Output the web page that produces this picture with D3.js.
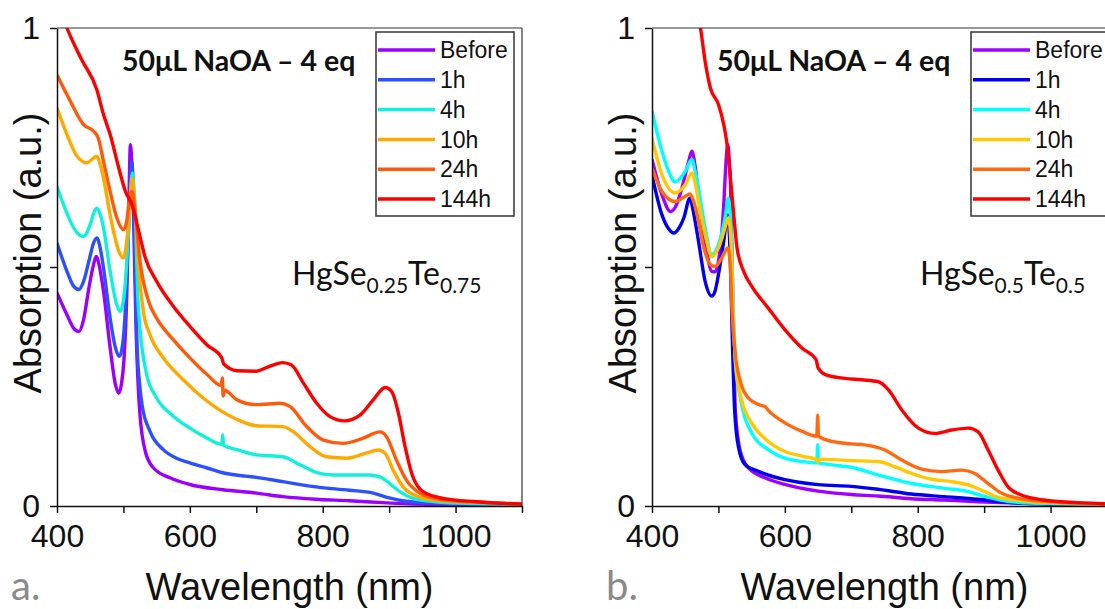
<!DOCTYPE html>
<html>
<head>
<meta charset="utf-8">
<script src="https://cdn.jsdelivr.net/npm/d3@7"></script>
<style>
  html, body { margin: 0; padding: 0; background: #fff; }
  svg { display: block; }
</style>
</head>
<body>
<svg id="chart" width="1105" height="609"></svg>
<script>
// ---- legend / series labels ----
const seriesLabels = ["Before", "1h", "4h", "10h", "24h", "144h"];

// ---- axis ticks ----
const xTicks = [400, 500, 600, 700, 800, 900, 1000, 1100];
const xTickLabels = [400, 600, 800, 1000];
const yTicks = [0, 0.5, 1];
const yTickLabels = [0, 1];

// ---- panel a: HgSe0.25Te0.75, absorption spectra [wavelength nm, absorbance] ----
const aBefore = [[400,0.446],[415,0.40],[425,0.372],[433,0.365],[440,0.39],[448,0.456],[455,0.505],[459,0.522],[464,0.50],[470,0.449],[480,0.331],[488,0.254],[493,0.236],[497,0.255],[501,0.31],[505,0.44],[508,0.62],[510.5,0.756],[512.5,0.72],[515,0.62],[519,0.372],[524.5,0.198],[533,0.114],[545,0.08],[570,0.059],[600,0.045],[650,0.034],[700,0.027],[740,0.0195],[790,0.014],[840,0.011],[890,0.007],[940,0.004],[1000,0.003],[1100,0.002]];
const a1h = [[400,0.55],[415,0.491],[425,0.46],[433,0.453],[440,0.47],[448,0.512],[455,0.55],[460,0.561],[465,0.54],[470,0.498],[480,0.393],[488,0.331],[494,0.313],[499,0.34],[503,0.414],[507,0.55],[510,0.66],[512.5,0.721],[515,0.66],[517,0.55],[520.5,0.337],[524,0.26],[528,0.212],[540,0.156],[560,0.118],[580,0.1],[600,0.09],[626,0.0795],[651,0.069],[700,0.06],[740,0.051],[790,0.040],[840,0.033],[876,0.027],[900,0.017],[926,0.01],[970,0.006],[1100,0.002]];
const a4h = [[400,0.669],[410,0.63],[420,0.596],[430,0.572],[440,0.564],[450,0.589],[456,0.615],[460,0.623],[465,0.61],[470,0.582],[480,0.491],[490,0.421],[495,0.407],[500,0.43],[503,0.47],[507,0.56],[510.5,0.651],[513.5,0.697],[516,0.66],[518,0.61],[521.5,0.442],[525,0.37],[528,0.33],[535,0.275],[550,0.226],[575,0.188],[600,0.163],[626,0.142],[648,0.129],[649.5,0.149],[650.5,0.127],[671,0.118],[700,0.107],[740,0.103],[766,0.086],[791,0.070],[816,0.065],[870,0.065],[886,0.061],[901,0.047],[916,0.030],[936,0.016],[970,0.009],[1030,0.005],[1100,0.003]];
const a10h = [[400,0.833],[415,0.777],[430,0.732],[445,0.718],[455,0.728],[460,0.732],[465,0.715],[470,0.686],[480,0.609],[493,0.533],[500,0.519],[506,0.568],[510,0.64],[513,0.686],[516,0.65],[518,0.61],[523,0.498],[530,0.407],[540,0.358],[560,0.31],[590,0.264],[620,0.226],[648,0.198],[671,0.181],[700,0.168],[740,0.166],[756,0.155],[781,0.124],[806,0.103],[836,0.10],[864,0.11],[884,0.117],[894,0.11],[906,0.075],[921,0.040],[941,0.021],[971,0.012],[1030,0.008],[1100,0.004]];
const a24h = [[400,0.902],[420,0.847],[440,0.798],[455,0.784],[462,0.77],[470,0.721],[480,0.658],[490,0.603],[500,0.578],[505,0.596],[510,0.651],[513,0.658],[518,0.61],[525,0.512],[538,0.428],[550,0.393],[575,0.348],[600,0.31],[626,0.275],[647,0.252],[649,0.268],[650,0.23],[652,0.242],[671,0.222],[700,0.212],[736,0.215],[751,0.208],[776,0.166],[801,0.138],[831,0.131],[861,0.142],[886,0.155],[896,0.145],[911,0.096],[926,0.054],[946,0.027],[976,0.014],[1032,0.008],[1100,0.004]];
const a144h = [[400,1.06],[415,1.0],[437,0.934],[460,0.871],[470,0.819],[480,0.777],[493,0.707],[503,0.658],[513,0.63],[523,0.575],[533,0.519],[550,0.47],[575,0.418],[600,0.376],[626,0.337],[648,0.310],[651,0.297],[671,0.283],[700,0.282],[716,0.29],[740,0.30],[753,0.295],[771,0.257],[791,0.215],[811,0.187],[833,0.178],[856,0.190],[876,0.222],[894,0.248],[904,0.239],[914,0.194],[924,0.124],[934,0.068],[951,0.030],[981,0.016],[1032,0.009],[1100,0.004]];

// ---- panel b: HgSe0.5Te0.5 ----
const bBefore = [[400,0.725],[415,0.651],[428,0.616],[435,0.625],[445,0.665],[455,0.72],[460,0.742],[465,0.71],[470,0.651],[480,0.554],[490,0.491],[495,0.49],[500,0.512],[505,0.57],[508,0.63],[511,0.71],[514,0.756],[516.5,0.72],[518,0.686],[521.5,0.442],[525.5,0.198],[533,0.114],[545,0.08],[570,0.059],[600,0.045],[650,0.031],[700,0.024],[740,0.021],[790,0.0153],[840,0.0125],[890,0.009],[950,0.006],[1100,0.003]];
const b1h = [[400,0.693],[415,0.609],[425,0.58],[433,0.571],[440,0.58],[448,0.603],[457,0.644],[463,0.61],[470,0.554],[480,0.47],[490,0.439],[495,0.45],[500,0.484],[508,0.554],[514,0.609],[516,0.58],[518,0.512],[520.5,0.372],[524.5,0.198],[530.5,0.121],[540,0.0865],[560,0.0725],[600,0.055],[650,0.0446],[700,0.041],[740,0.035],[790,0.025],[840,0.0195],[890,0.014],[940,0.007],[1000,0.004],[1100,0.002]];
const b4h = [[400,0.826],[415,0.742],[425,0.7],[435,0.678],[450,0.70],[460,0.725],[465,0.70],[470,0.665],[480,0.582],[490,0.526],[500,0.547],[510,0.603],[515,0.644],[519,0.582],[522,0.442],[525.5,0.30],[533,0.226],[550,0.153],[575,0.118],[600,0.10],[626,0.093],[648,0.09],[649.5,0.128],[650.5,0.09],[671,0.086],[700,0.081],[740,0.065],[791,0.047],[841,0.037],[876,0.030],[901,0.020],[926,0.012],[970,0.006],[1100,0.003]];
const b10h = [[400,0.77],[415,0.693],[425,0.665],[435,0.655],[450,0.672],[460,0.697],[465,0.675],[470,0.637],[480,0.568],[490,0.522],[500,0.54],[510,0.582],[515,0.603],[519,0.547],[522,0.407],[526.5,0.289],[535.5,0.219],[550,0.174],[575,0.135],[600,0.114],[626,0.104],[648,0.097],[650,0.092],[652,0.098],[671,0.097],[700,0.095],[740,0.093],[766,0.082],[791,0.068],[821,0.056],[851,0.051],[876,0.044],[901,0.030],[921,0.018],[951,0.012],[1000,0.007],[1100,0.004]];
const b24h = [[400,0.707],[415,0.658],[435,0.637],[450,0.648],[457,0.653],[462,0.64],[468,0.609],[478,0.54],[488,0.505],[495,0.501],[505,0.519],[514,0.54],[518,0.498],[520.5,0.407],[525.5,0.317],[533,0.261],[545,0.226],[565,0.21],[570,0.208],[575,0.2],[600,0.174],[626,0.156],[648,0.146],[649.5,0.19],[650.5,0.146],[671,0.135],[700,0.13],[720,0.128],[751,0.117],[776,0.096],[806,0.077],[836,0.072],[866,0.075],[886,0.068],[906,0.047],[926,0.027],[956,0.015],[1000,0.009],[1100,0.004]];
const b144h = [[465,1.06],[473,1.0],[480,0.93],[488,0.874],[500,0.84],[508,0.798],[513,0.756],[518,0.686],[523,0.61],[528,0.54],[538,0.491],[550,0.46],[575,0.414],[600,0.369],[626,0.33],[647,0.306],[650,0.289],[661,0.275],[690,0.267],[716,0.264],[741,0.260],[756,0.243],[776,0.201],[801,0.163],[826,0.152],[851,0.159],[876,0.163],[891,0.155],[906,0.117],[921,0.075],[936,0.040],[956,0.023],[990,0.0125],[1040,0.007],[1100,0.004]];

const colorsA = ["#9b00ff", "#2b50ff", "#10f0dc", "#ffa800", "#ff5a0a", "#ff0000"];
const colorsB = ["#a000ff", "#0000f0", "#00ffff", "#ffc800", "#ff6a10", "#ff0000"];

const panels = [
  { id: "a", dx: 0, letter: "a.", series: [aBefore, a1h, a4h, a10h, a24h, a144h], colors: colorsA,
    formula: ["HgSe", "0.25", "Te", "0.75"], formulaX: 292 },
  { id: "b", dx: 595, letter: "b.", series: [bBefore, b1h, b4h, b10h, b24h, b144h], colors: colorsB,
    formula: ["HgSe", "0.5", "Te", "0.5"], formulaX: 325 }
];

const svg = d3.select("#chart");
svg.append("rect").attr("width", 1105).attr("height", 609).attr("fill", "#fff");

const L = 57, R = 522, T = 28, B = 506;
const x = d3.scaleLinear().domain([400, 1100]).range([L, R]);
const y = d3.scaleLinear().domain([0, 1]).range([B, T]);
const tickFont = "'Liberation Sans', Arial, sans-serif";
const noteFont = "Lato, 'Open Sans', sans-serif";

const line = d3.line()
  .x(d => x(d[0]))
  .y(d => y(d[1]))
  .curve(d3.curveMonotoneX);

panels.forEach(p => {
  const g = svg.append("g").attr("transform", `translate(${p.dx},0)`);

  g.append("clipPath").attr("id", "clip-" + p.id)
    .append("rect").attr("x", L).attr("y", T).attr("width", R - L).attr("height", B - T);

  // spectra
  const lines = g.append("g").attr("clip-path", `url(#clip-${p.id})`);
  p.series.forEach((s, i) => {
    lines.append("path")
      .datum(s)
      .attr("d", line)
      .attr("fill", "none")
      .attr("stroke", p.colors[i])
      .attr("stroke-width", 3.4)
      .attr("stroke-linejoin", "round");
  });

  // frame top and right
  g.append("line").attr("x1", L).attr("x2", R).attr("y1", T).attr("y2", T)
    .attr("stroke", "#333").attr("stroke-width", 1.2);
  g.append("line").attr("x1", R).attr("x2", R).attr("y1", T).attr("y2", B)
    .attr("stroke", "#333").attr("stroke-width", 1.2);

  // x axis
  const xAxis = d3.axisBottom(x)
    .tickValues(xTicks)
    .tickSize(7)
    .tickSizeOuter(0)
    .tickPadding(11)
    .tickFormat(d => xTickLabels.includes(d) ? d : "");
  const gx = g.append("g").attr("transform", `translate(0,${B})`).call(xAxis);
  gx.selectAll("path, line").attr("stroke", "#111").attr("stroke-width", 1.5);
  gx.selectAll("text").attr("font-family", tickFont).attr("font-size", 32).attr("fill", "#111");

  // y axis
  const yAxis = d3.axisLeft(y)
    .tickValues(yTicks)
    .tickSize(7)
    .tickSizeOuter(0)
    .tickPadding(10)
    .tickFormat(d => yTickLabels.includes(d) ? d : "");
  const gy = g.append("g").attr("transform", `translate(${L},0)`).call(yAxis);
  gy.selectAll("path, line").attr("stroke", "#111").attr("stroke-width", 1.5);
  gy.selectAll("text").attr("font-family", tickFont).attr("font-size", 32).attr("fill", "#111");

  // axis titles
  g.append("text")
    .attr("transform", `translate(41,253) rotate(-90)`)
    .attr("text-anchor", "middle")
    .attr("font-family", tickFont).attr("font-size", 38).attr("fill", "#111")
    .text("Absorption (a.u.)");
  g.append("text")
    .attr("x", (L + R) / 2).attr("y", 600)
    .attr("text-anchor", "middle")
    .attr("font-family", tickFont).attr("font-size", 38).attr("fill", "#111")
    .text("Wavelength (nm)");

  // panel letter
  g.append("text")
    .attr("x", 11).attr("y", 600)
    .attr("font-family", noteFont).attr("font-size", 40).attr("fill", "#8a8a8a")
    .text(p.letter);

  // treatment note
  g.append("text")
    .attr("x", 122).attr("y", 71)
    .attr("font-family", noteFont).attr("font-weight", "bold").attr("font-size", 28.5).attr("fill", "#111")
    .text("50μL NaOA – 4 eq");

  // composition
  const f = g.append("text")
    .attr("x", p.formulaX).attr("y", 285)
    .attr("font-family", noteFont).attr("font-size", 32).attr("fill", "#111");
  p.formula.forEach((part, i) => {
    const sub = i % 2 === 1;
    f.append("tspan")
      .attr("font-size", sub ? 21 : 32)
      .attr("dy", i === 0 ? 0 : (sub ? 8 : -8))
      .text(part);
  });

  // legend
  const lg = g.append("g");
  lg.append("rect").attr("x", 376).attr("y", 32).attr("width", 138).attr("height", 184)
    .attr("fill", "#fff").attr("stroke", "#333").attr("stroke-width", 1.5);
  seriesLabels.forEach((lab, i) => {
    const ly = 50 + i * 29.8;
    lg.append("line").attr("x1", 378).attr("x2", 435).attr("y1", ly).attr("y2", ly)
      .attr("stroke", p.colors[i]).attr("stroke-width", 3.5);
    lg.append("text").attr("x", 440).attr("y", ly).attr("dy", "0.36em")
      .attr("font-family", tickFont).attr("font-size", 23).attr("fill", "#111")
      .text(lab);
  });
});
</script>
</body>
</html>
